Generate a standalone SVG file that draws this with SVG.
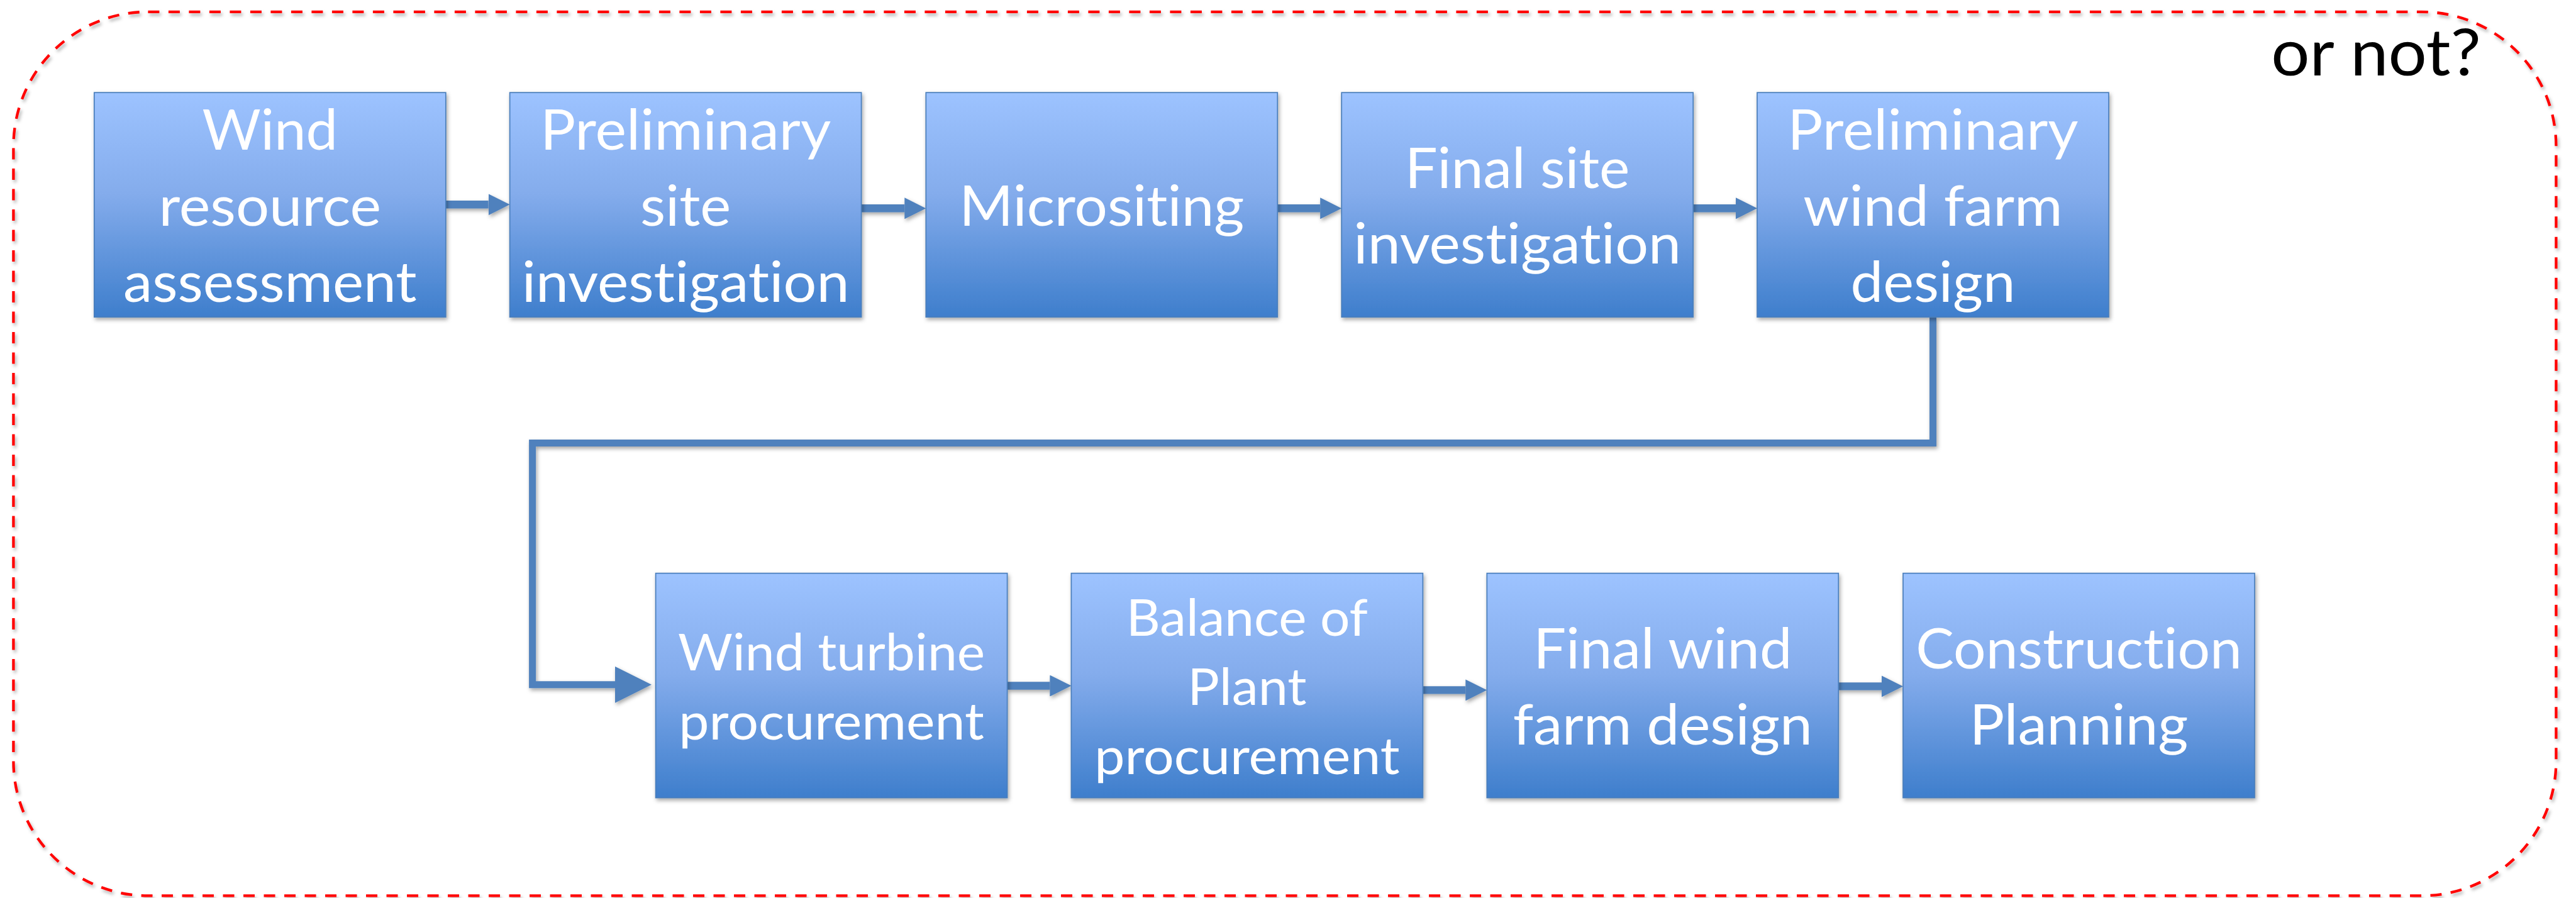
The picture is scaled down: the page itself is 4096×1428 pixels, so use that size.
<svg xmlns="http://www.w3.org/2000/svg" width="4096" height="1428" viewBox="0 0 4096 1428">
<defs>
<style>
.box{fill:url(#bg);stroke:#4A7EBB;stroke-width:1.7}
.t{font-family:Lato,"Liberation Sans",sans-serif;fill:#FFFFFF;text-anchor:middle;font-variant-ligatures:none;font-feature-settings:"liga" 0,"clig" 0}
.big{font-size:90px}
.mid{font-size:82px}
.arr{fill:none;stroke:#4F81BD;stroke-width:12.4}
.elb{fill:none;stroke:#4F81BD;stroke-width:11;stroke-linejoin:miter}
.frame{fill:none;stroke:#FF0000;stroke-width:4.3;stroke-dasharray:18 14.5}
.note{font-family:Lato,"Liberation Sans",sans-serif;font-size:102px;fill:#000000;text-anchor:middle;font-variant-ligatures:none}
</style>
<linearGradient id="bg" x1="0" y1="0" x2="0" y2="1">
<stop offset="0" stop-color="#9DC3FF"/>
<stop offset="0.45" stop-color="#84ACEC"/>
<stop offset="1" stop-color="#3E7ECC"/>
</linearGradient>
<filter id="sh" x="-5%" y="-5%" width="115%" height="120%">
<feDropShadow dx="2" dy="3.5" stdDeviation="3" flood-color="#000" flood-opacity="0.35"/>
</filter>
<filter id="shf" x="-2%" y="-2%" width="104%" height="106%">
<feDropShadow dx="2.5" dy="4" stdDeviation="2.5" flood-color="#000" flood-opacity="0.3"/>
</filter>
<marker id="ah" viewBox="0 0 10 10" refX="0" refY="5" markerWidth="2.74" markerHeight="2.74" orient="auto" markerUnits="strokeWidth">
<path d="M0,0 L10,5 L0,10 Z" fill="#4F81BD"/>
</marker>
<marker id="ahL" viewBox="0 0 10 10" refX="0" refY="5" markerWidth="5.27" markerHeight="5.27" orient="auto" markerUnits="strokeWidth">
<path d="M0,0 L10,5 L0,10 Z" fill="#4F81BD"/>
</marker>
</defs>
<rect width="4096" height="1428" fill="#FFFFFF"/>

<g id="frame">
<rect class="frame" x="21.4" y="18.8" width="4043" height="1405.6" rx="214" ry="214" filter="url(#shf)"/>
</g>

<g id="note">
<text class="note" x="3778" y="119.8" textLength="333.6" lengthAdjust="spacingAndGlyphs">or not?</text>
</g>

<g id="connectors" filter="url(#sh)">
<line class="arr" x1="708.8" y1="325.3" x2="776.6" y2="325.3" marker-end="url(#ah)"/>
<line class="arr" x1="1369.6" y1="331.3" x2="1438.3" y2="331.3" marker-end="url(#ah)"/>
<line class="arr" x1="2031.3" y1="331.3" x2="2099.2" y2="331.3" marker-end="url(#ah)"/>
<line class="arr" x1="2692.1" y1="331.3" x2="2760.0" y2="331.3" marker-end="url(#ah)"/>
<path class="elb" d="M3073.5,504.2 V704.5 H846.6 V1088.8 H978" marker-end="url(#ahL)"/>
<line class="arr" x1="1601.6" y1="1090.5" x2="1669.4" y2="1090.5" marker-end="url(#ah)"/>
<line class="arr" x1="2262.4" y1="1097.4" x2="2330.3" y2="1097.4" marker-end="url(#ah)"/>
<line class="arr" x1="2923.2" y1="1091.4" x2="2992.0" y2="1091.4" marker-end="url(#ah)"/>
</g>

<g id="n1">
<rect class="box" x="149.8" y="147.2" width="559" height="357" filter="url(#sh)"/>
<text class="t big" x="429.3" y="238.4" textLength="215.4" lengthAdjust="spacingAndGlyphs">Wind</text>
<text class="t big" x="429.3" y="359.0" textLength="353.5" lengthAdjust="spacingAndGlyphs">resource</text>
<text class="t big" x="429.3" y="479.6" textLength="466.5" lengthAdjust="spacingAndGlyphs">assessment</text>
</g>
<g id="n2">
<rect class="box" x="810.6" y="147.2" width="559" height="357" filter="url(#sh)"/>
<text class="t big" x="1090.1" y="238.4" textLength="462.3" lengthAdjust="spacingAndGlyphs">Preliminary</text>
<text class="t big" x="1090.1" y="359.0" textLength="144.3" lengthAdjust="spacingAndGlyphs">site</text>
<text class="t big" x="1090.1" y="479.6" textLength="520.8" lengthAdjust="spacingAndGlyphs">investigation</text>
</g>
<g id="n3">
<rect class="box" x="1472.3" y="147.2" width="559" height="357" filter="url(#sh)"/>
<text class="t big" x="1751.8" y="359.0" textLength="453.1" lengthAdjust="spacingAndGlyphs">Micrositing</text>
</g>
<g id="n4">
<rect class="box" x="2133.2" y="147.2" width="559" height="357" filter="url(#sh)"/>
<text class="t big" x="2412.7" y="298.7" textLength="357.5" lengthAdjust="spacingAndGlyphs">Final site</text>
<text class="t big" x="2412.7" y="419.3" textLength="520.8" lengthAdjust="spacingAndGlyphs">investigation</text>
</g>
<g id="n5">
<rect class="box" x="2794.0" y="147.2" width="559" height="357" filter="url(#sh)"/>
<text class="t big" x="3073.5" y="238.4" textLength="462.3" lengthAdjust="spacingAndGlyphs">Preliminary</text>
<text class="t big" x="3073.5" y="359.0" textLength="412.3" lengthAdjust="spacingAndGlyphs">wind farm</text>
<text class="t big" x="3073.5" y="479.6" textLength="262.1" lengthAdjust="spacingAndGlyphs">design</text>
</g>
<g id="n6">
<rect class="box" x="1042.6" y="911.6" width="559" height="357" filter="url(#sh)"/>
<text class="t mid" x="1322.1" y="1065.5" textLength="488.1" lengthAdjust="spacingAndGlyphs">Wind turbine</text>
<text class="t mid" x="1322.1" y="1175.8" textLength="485.5" lengthAdjust="spacingAndGlyphs">procurement</text>
</g>
<g id="n7">
<rect class="box" x="1703.4" y="911.6" width="559" height="357" filter="url(#sh)"/>
<text class="t mid" x="1982.9" y="1011" textLength="384.1" lengthAdjust="spacingAndGlyphs">Balance of</text>
<text class="t mid" x="1982.9" y="1120.5" textLength="189.1" lengthAdjust="spacingAndGlyphs">Plant</text>
<text class="t mid" x="1982.9" y="1230.5" textLength="485.5" lengthAdjust="spacingAndGlyphs">procurement</text>
</g>
<g id="n8">
<rect class="box" x="2364.3" y="911.6" width="559" height="357" filter="url(#sh)"/>
<text class="t big" x="2643.8" y="1063.4" textLength="411.2" lengthAdjust="spacingAndGlyphs">Final wind</text>
<text class="t big" x="2643.8" y="1183.8" textLength="476.3" lengthAdjust="spacingAndGlyphs">farm design</text>
</g>
<g id="n9">
<rect class="box" x="3026.0" y="911.6" width="559" height="357" filter="url(#sh)"/>
<text class="t big" x="3305.5" y="1063.4" textLength="518.7" lengthAdjust="spacingAndGlyphs">Construction</text>
<text class="t big" x="3305.5" y="1183.8" textLength="347.6" lengthAdjust="spacingAndGlyphs">Planning</text>
</g>
</svg>
